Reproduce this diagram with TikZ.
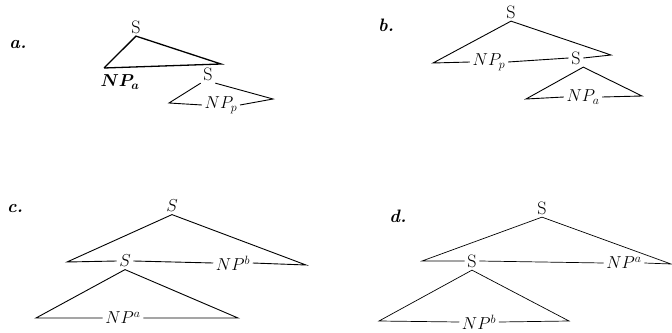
\documentclass[tikz,border=0pt]{standalone}
\usepackage{amsmath,bm}
\usetikzlibrary{positioning}
\newcommand\treefont{\fontsize{18}{21}\selectfont}
\begin{document}
\begin{tikzpicture}[x=1pt,y=-1pt,
  cat/.style={font=\treefont,inner sep=2.5pt},
  panel/.style={font=\treefont\bfseries\itshape},
  branch/.style={line width=0.9pt}]
\useasboundingbox (0,0) rectangle (672,332);
% a.
\node[panel] (la) at (18,45) {a.};
\node[cat] (a-s) at (136,27) {S};
\coordinate (a-l) at (104,68);
\coordinate (a-r) at (221,64);
\draw[branch,line width=1.3pt] (a-l) -- (a-s.south) -- (a-r) -- (a-l);
\node[cat] (a-np) at (120,82) {$\bm{NP_a}$};
\node[cat] (a-s2) at (208,74) {S};
\coordinate (a-l2) at (169,103);
\coordinate (a-r2) at (273,99);
\node[cat] (a-np2) at (221,105) {$NP_p$};
\draw[branch] (a-s2.south west) -- (a-l2) -- (a-np2.west);
\draw[branch] (a-np2.east) -- (a-r2) -- (a-s2.south east);
% b.
\node[panel] (lb) at (386,25) {b.};
\node[cat] (b-s) at (511,12) {S};
\coordinate (b-l) at (433,63);
\coordinate (b-r) at (611,55);
\node[cat] (b-np) at (489,62) {$NP_p$};
\node[cat] (b-s2) at (576,58) {S};
\draw[branch] (b-np.west) -- (b-l) -- (b-s.south) -- (b-r) -- (b-s2.east);
\draw[branch] (b-np.east) -- (b-s2.west);
\coordinate (b-l2) at (526,99);
\coordinate (b-r2) at (642,96);
\node[cat] (b-np2) at (583,97) {$NP_a$};
\draw[branch] (b-np2.west) -- (b-l2) -- (b-s2.south east) -- (b-r2) -- (b-np2.east);
% c.
\node[panel] (lc) at (15,209) {c.};
\node[cat] (c-s) at (172,206) {$S$};
\coordinate (c-l) at (67,262);
\coordinate (c-r) at (306,265);
\node[cat] (c-s2) at (125,261) {$S$};
\node[cat] (c-np) at (233,263) {$NP^b$};
\draw[branch] (c-s2.west) -- (c-l) -- (c-s.south) -- (c-r) -- (c-np.east);
\draw[branch] (c-s2.east) -- (c-np.west);
\coordinate (c-l2) at (36,318);
\coordinate (c-r2) at (238,318);
\node[cat] (c-np2) at (123,318) {$NP^a$};
\draw[branch] (c-np2.west) -- (c-l2) -- (c-s2.south) -- (c-r2) -- (c-np2.east);
% d.
\node[panel] (ld) at (398,216) {d.};
\node[cat] (d-s) at (542,208) {S};
\coordinate (d-l) at (422,261);
\coordinate (d-r) at (671,264);
\node[cat] (d-s2) at (472,261) {S};
\node[cat] (d-np) at (624,263) {$NP^a$};
\draw[branch,line width=0.7pt] (d-s2.west) -- (d-l) -- (d-s.south) -- (d-r) -- (d-np.east);
\draw[branch,line width=0.7pt] (d-s2.east) -- (d-np.west);
\coordinate (d-l2) at (379,321);
\coordinate (d-r2) at (569,321);
\node[cat] (d-np2) at (479,322) {$NP^b$};
\draw[branch,line width=0.7pt] (d-np2.west) -- (d-l2) -- (d-s2.south) -- (d-r2) -- (d-np2.east);
\end{tikzpicture}
\end{document}
